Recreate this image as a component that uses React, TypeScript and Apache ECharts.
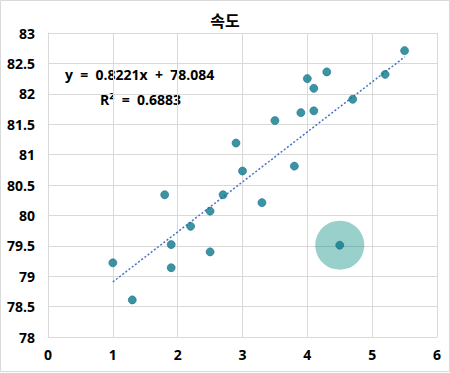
import React, { useEffect, useRef } from "react";
import * as echarts from "echarts";

const title = "속도";
const xValues = [1.0, 1.3, 1.9, 1.9, 2.5, 1.8, 2.2, 2.5, 2.7, 2.9, 3.0, 3.3, 3.8, 3.5, 3.9, 4.1, 4.0, 4.1, 4.3, 4.7, 5.2, 5.5, 4.5];
const yValues = [79.22, 78.61, 79.52, 79.14, 79.40, 80.34, 79.82, 80.07, 80.34, 81.19, 80.73, 80.21, 80.81, 81.56, 81.69, 81.72, 82.25, 82.09, 82.36, 81.91, 82.32, 82.71, 79.51];
const highlightX = [4.5];
const highlightY = [79.51];
const trendX = [1, 5.5];
const trendY = [78.906, 82.606];
const equationText = "y  =  0.8221x  +  78.084";
const r2Text = "R²  =  0.6883";

export default function App() {
  const ref = useRef<HTMLDivElement>(null);
  useEffect(() => {
    if (!ref.current) return;
    const chart = echarts.init(ref.current, null, { renderer: "svg" });
    const grid = "#d9d9d9";
    const font = "'Open Sans', 'Noto Sans CJK KR', sans-serif";
    chart.setOption({
      animation: false,
      backgroundColor: "#ffffff",
      title: {
        text: title,
        left: "center",
        top: 7,
        textStyle: { fontFamily: "'Noto Sans CJK KR', sans-serif", fontWeight: "bold", fontSize: 16, color: "#000" },
      },
      grid: { left: 48, right: 13, top: 33, bottom: 36 },
      xAxis: {
        type: "value",
        min: 0,
        max: 6,
        interval: 1,
        axisLine: { show: true, lineStyle: { color: grid } },
        axisTick: { show: false },
        splitLine: { show: true, lineStyle: { color: grid } },
        axisLabel: { color: "#000", fontFamily: font, fontWeight: "bold", fontSize: 14, margin: 10 },
      },
      yAxis: {
        type: "value",
        min: 78,
        max: 83,
        interval: 0.5,
        axisLine: { show: true, lineStyle: { color: grid } },
        axisTick: { show: false },
        splitLine: { show: true, lineStyle: { color: grid } },
        axisLabel: { color: "#000", fontFamily: font, fontWeight: "bold", fontSize: 14, margin: 13 },
      },
      graphic: [
        { type: "rect", shape: { x: 0.5, y: 0.5, width: 449, height: 371 }, style: { fill: "none", stroke: "#d9d9d9", lineWidth: 1 }, silent: true },
        { type: "text", x: 65, y: 67, style: { text: equationText, fontFamily: font, fontWeight: "bold", fontSize: 14, fill: "#000" } },
        { type: "text", x: 100, y: 92, style: { text: r2Text, fontFamily: font, fontWeight: "bold", fontSize: 14, fill: "#000" } },
      ],
      series: [
        {
          type: "scatter",
          data: highlightX.map((x, i) => [x, highlightY[i]]),
          symbolSize: 49,
          itemStyle: { color: "rgba(0,137,128,0.5)" },
          z: 1,
        },
        {
          type: "line",
          data: trendX.map((x, i) => [x, trendY[i]]),
          showSymbol: false,
          lineStyle: { color: "#4472c4", width: 1.5, type: [2, 2] },
          z: 2,
        },
        {
          type: "scatter",
          data: xValues.map((x, i) => [x, yValues[i]]),
          symbolSize: 8,
          itemStyle: { color: "#0a7b88", borderColor: "#1f6e9c", borderWidth: 0.8 },
          z: 3,
        },
      ],
    });
    return () => chart.dispose();
  }, []);
  return <div ref={ref} style={{ position: "fixed", left: 0, top: 0, width: 450, height: 373 }} />;
}
